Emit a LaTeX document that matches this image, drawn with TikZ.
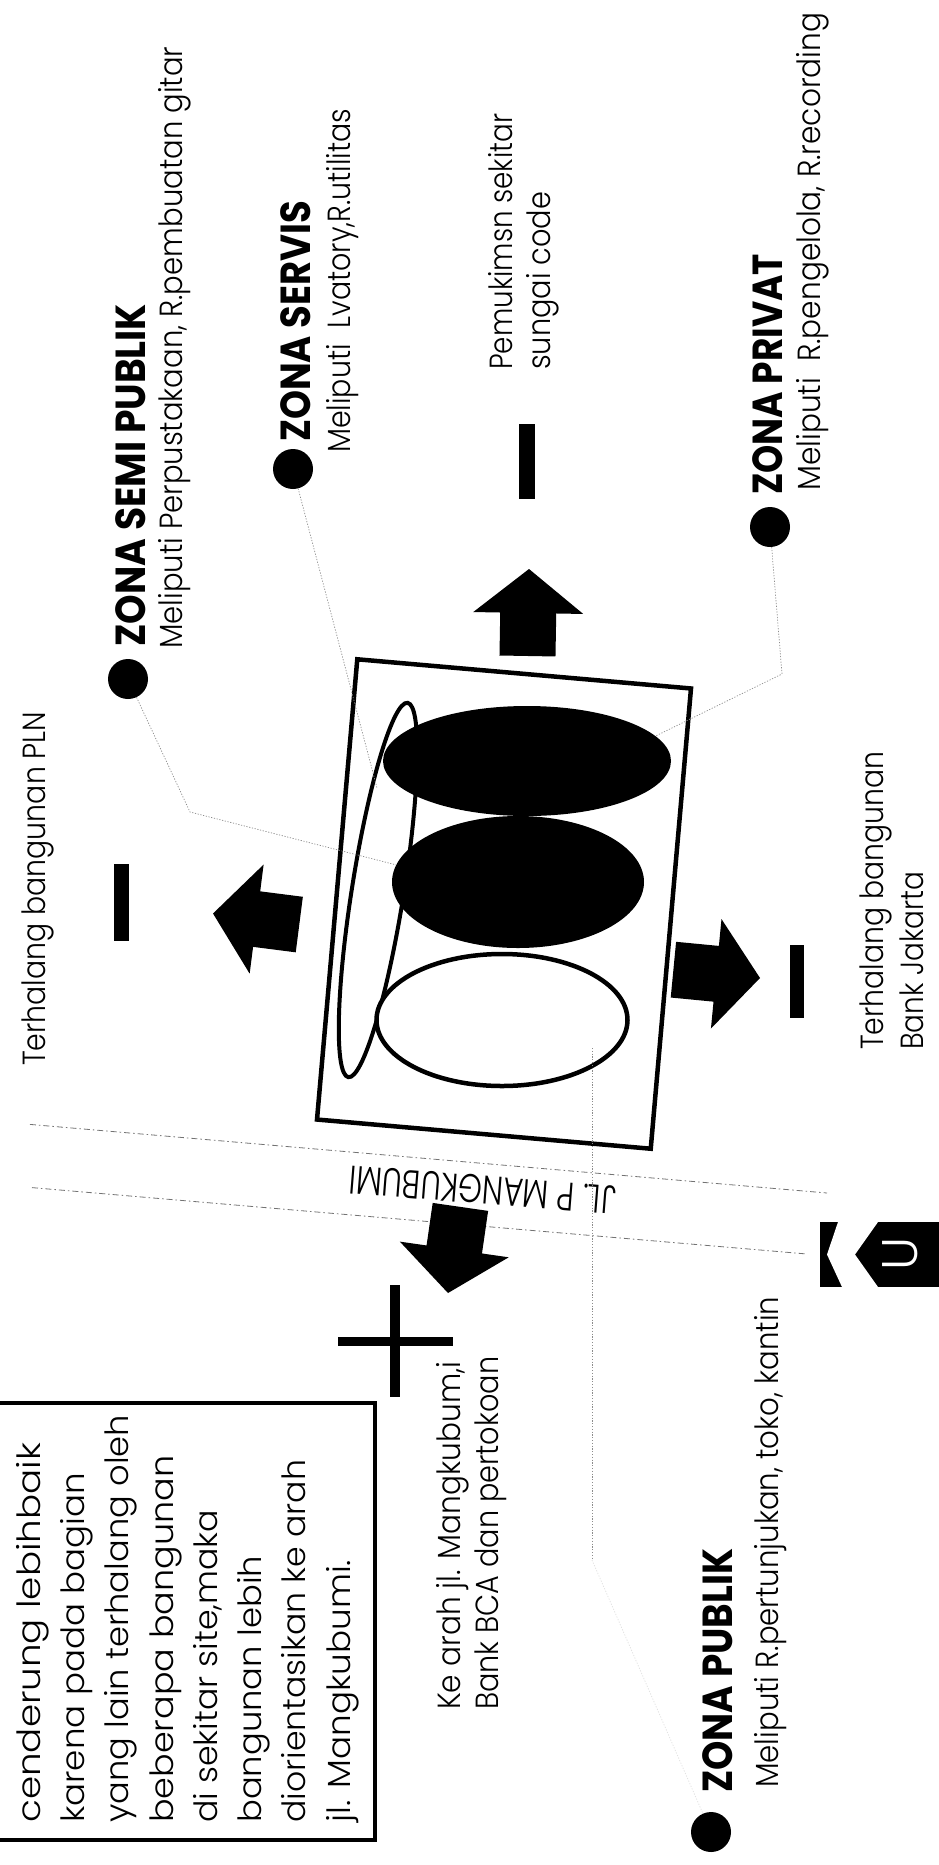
\documentclass[tikz,border=0pt]{standalone}
\usepackage{fontspec}
\setmainfont{Poppins Light}[BoldFont={Poppins Bold}]
\usetikzlibrary{shapes.geometric}
% squeeze a line of text to a given length (in pt) without changing its height
\newcommand\fitto[2]{\resizebox{#1pt}{\height}{#2}}
\tikzset{
  blockarr/.pic={\fill[black] (0,0)--(-44,55)--(-44,28)--(-87,28)--(-87,-28)--(-44,-28)--(-44,-55)--cycle;}
}
\begin{document}
\begin{tikzpicture}[x=1pt,y=-1pt,
  zonedot/.style={circle, fill=black, minimum size=40pt, inner sep=0pt},
  rtxt/.style={rotate=90, anchor=base west, inner sep=0pt, font=\fontsize{32pt}{38pt}\selectfont},
  htxt/.style={rtxt, font=\fontsize{42pt}{48pt}\selectfont\bfseries},
  leader/.style={draw=black!45, line width=0.7pt, dash pattern=on 1.2pt off 1.6pt},
  road/.style={draw=black!55, line width=0.8pt, dash pattern=on 6pt off 3pt on 1.5pt off 3pt},
  bar/.style={fill=black}
]
\path[use as bounding box, fill=white] (0,0) rectangle (939,1865);

% ---- road (Jl. P Mangkubumi) ----
\draw[road] (30,1124.4) -- (827,1193);
\draw[road] (32,1187.6) -- (807,1254);
\node[inner sep=0pt, rotate=175.5, font=\fontsize{40pt}{44pt}\selectfont] (jl) at (483,1190) {\fitto{267}{JL. P MANGKUBUMI}};

% ---- site with zones ----
\node[draw, line width=4.5pt, minimum width=335pt, minimum height=462pt, rotate=-5, inner sep=0pt] (site) at (504,904) {};
\node[ellipse, draw, line width=4pt, minimum width=379pt, minimum height=52pt, rotate=81, inner sep=0pt] (ethin) at (378,890) {};
\node[ellipse, fill=black, minimum width=288pt, minimum height=110pt, inner sep=0pt] (etop) at (527,761) {};
\node[ellipse, fill=black, minimum width=252pt, minimum height=132pt, inner sep=0pt] (emid) at (518,882) {};
\node[ellipse, draw, fill=white, line width=4.5pt, minimum width=251pt, minimum height=132pt, inner sep=0pt] (ebot) at (502,1020) {};

% ---- orientation arrows and obstacles ----
\pic[rotate=172.7] at (213,913.5) {blockarr};
\pic[rotate=89] at (529,569) {blockarr};
\pic[rotate=-5.5] at (760,978) {blockarr};
\pic[rotate=-98.2] at (448,1293) {blockarr};
\fill[bar] (114,864) rectangle (129,941);
\fill[bar] (519,424) rectangle (535,499);
\fill[bar] (790,945) rectangle (804,1018);
\fill[black] (390,1285) rectangle (400,1397);
\fill[black] (338,1337) rectangle (453,1346);

% ---- north sign ----
\fill[black] (820,1222) rectangle (939,1287);
\fill[white] (838,1222) -- (827,1254.5) -- (842,1287) -- (878,1287) -- (855,1254.5) -- (878,1222) -- cycle;
\node[text=white, rotate=90, inner sep=0pt, font=\fontsize{50pt}{50pt}\selectfont] (north) at (900,1254) {U};

% ---- zone markers ----
\node[zonedot] (dsemi) at (128,679) {};
\node[zonedot] (dservis) at (293,469) {};
\node[zonedot] (dprivat) at (770,527) {};
\node[zonedot] (dpublik) at (711,1832) {};
\coordinate (servend) at (377,788);
\coordinate (pubend) at (592,1048);
\coordinate (pubbend) at (592,1560);

\draw[leader] (dsemi) -- (190,812) -- (emid.172);
\draw[leader] (dservis) -- (servend);
\draw[leader] (dprivat) -- (782,674) -- (etop.11);
\draw[leader] (pubend) -- (pubbend);
\draw[leader, draw=black!12] (pubbend) -- (dpublik);

% ---- labels ----
\node[rtxt] (pln) at (45,1066) {\fitto{354}{Terhalang bangunan PLN}};
\node[htxt] (hsemi) at (145,647) {\fitto{343}{ZONA SEMI PUBLIK}};
\node[rtxt] (tsemi) at (182,649) {\fitto{602}{Meliputi Perpustakaan, R.pembuatan gitar}};
\node[htxt] (hservis) at (310,442) {\fitto{241}{ZONA SERVIS}};
\node[rtxt] (tservis) at (350,453) {\fitto{344}{Meliputi\ \ Lvatory,R.utilitas}};
\node[rtxt] (river1) at (512,370) {\fitto{256}{Pemukimsn sekitar}};
\node[rtxt] (river2) at (550,370) {\fitto{178}{sungai code}};
\node[htxt] (hprivat) at (782,495) {\fitto{241}{ZONA PRIVAT}};
\node[rtxt] (tprivat) at (820,491) {\fitto{478}{Meliputi\ \ R.pengelola, R.recording}};
\node[rtxt] (bank1) at (883,1050) {\fitto{298}{Terhalang bangunan}};
\node[rtxt] (bank2) at (923,1050) {\fitto{178}{Bank Jakarta}};
\node[rtxt] (bca1) at (460,1710) {\fitto{348}{Ke arah jl. Mangkubum,i}};
\node[rtxt] (bca2) at (498,1710) {\fitto{353}{Bank BCA dan pertokoan}};
\node[htxt] (hpublik) at (732,1793) {\fitto{244}{ZONA PUBLIK}};
\node[rtxt] (tpublik) at (778,1788) {\fitto{491}{Meliputi R.pertunjukan, toko, kantin}};

% ---- note box ----
\draw[line width=4pt] (-10,1403) -- (375,1403) -- (375,1840) -- (-10,1840);
\node[rtxt] (n1) at (40,1823) {\fitto{380}{cenderung lebihbaik}};
\node[rtxt] (n2) at (84,1823) {\fitto{350}{karena pada bagian}};
\node[rtxt] (n3) at (128,1823) {\fitto{408}{yang lain terhalang oleh}};
\node[rtxt] (n4) at (173,1823) {\fitto{367}{beberapa bangunan}};
\node[rtxt] (n5) at (217,1823) {\fitto{313}{di sekitar site,maka}};
\node[rtxt] (n6) at (261,1823) {\fitto{267}{bangunan lebih}};
\node[rtxt] (n7) at (305,1823) {\fitto{363}{diorientasikan ke arah}};
\node[rtxt] (n8) at (350,1823) {\fitto{263}{jl. Mangkubumi.}};
\end{tikzpicture}
\end{document}
